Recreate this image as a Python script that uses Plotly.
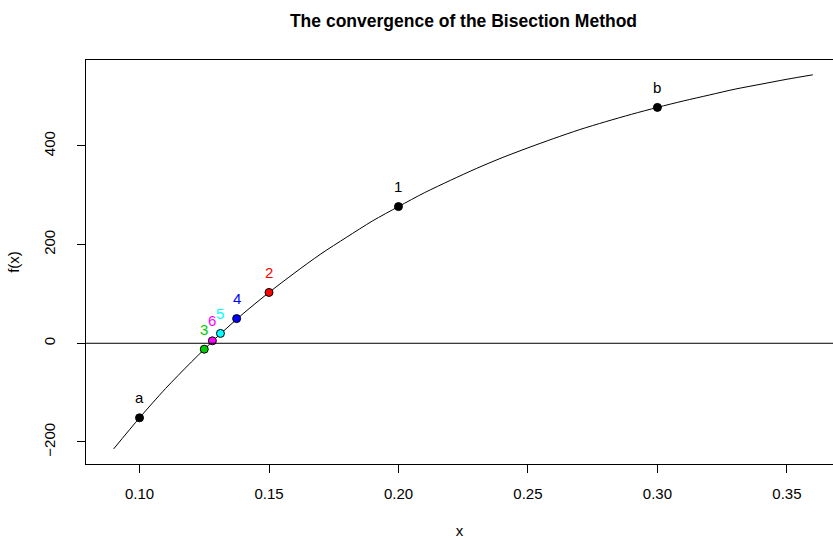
import plotly.graph_objects as go

# Curve f(x) sampled along the interval
curve_x = [0.09, 0.10, 0.11, 0.12, 0.13, 0.14, 0.15, 0.16, 0.17, 0.18,
           0.19, 0.20, 0.21, 0.22, 0.23, 0.24, 0.25, 0.26, 0.27, 0.28,
           0.29, 0.30, 0.31, 0.32, 0.33, 0.34, 0.35, 0.36]
curve_y = [-214, -151, -92, -38, 13, 60, 103, 143, 181, 215,
           248, 277, 305, 330, 354, 376, 396, 415, 433, 449,
           464, 478, 491, 503, 515, 525, 535, 544]

# Bisection iterates: endpoints a, b and midpoints 1..6
point_labels = ["a", "b", "1", "2", "3", "4", "5", "6"]
point_x = [0.10, 0.30, 0.20, 0.15, 0.125, 0.1375, 0.13125, 0.128125]
point_y = [-151, 478, 277, 103, -12, 50, 20, 5]
point_colors = ["#000000", "#000000", "#000000", "#FF0000",
                "#00CD00", "#0000FF", "#00FFFF", "#FF00FF"]

x_ticks = [0.10, 0.15, 0.20, 0.25, 0.30, 0.35]
x_tick_text = ["0.10", "0.15", "0.20", "0.25", "0.30", "0.35"]
y_ticks = [-200, 0, 200, 400]
y_tick_text = ["\u2212200", "0", "200", "400"]

FONT = "Liberation Sans, Arial, Helvetica, sans-serif"

fig = go.Figure()

fig.add_trace(go.Scatter(
    x=curve_x, y=curve_y, mode="lines",
    line=dict(color="black", width=1, shape="spline", smoothing=0.8),
    hoverinfo="skip", showlegend=False,
))

fig.add_trace(go.Scatter(
    x=point_x, y=point_y, mode="markers",
    marker=dict(size=8, color=point_colors,
                line=dict(color="black", width=1)),
    showlegend=False,
))

# horizontal reference line at f(x) = 0
fig.add_hline(y=0, line=dict(color="black", width=1))

for lab, px, py, col in zip(point_labels, point_x, point_y, point_colors):
    fig.add_annotation(
        x=px, y=py, text=lab, showarrow=False,
        yshift=20, font=dict(family=FONT, size=15, color=col),
    )

fig.update_layout(
    width=833, height=539,
    margin=dict(l=86, r=0, t=60, b=75),
    paper_bgcolor="white", plot_bgcolor="white",
    font=dict(family=FONT, size=15, color="black"),
    title=dict(
        text="<b>The convergence of the Bisection Method</b>",
        x=(86 + 841) / 2 / 833, xanchor="center",
        y=1 - 21 / 539, yanchor="middle", yref="container",
        font=dict(family=FONT, size=17.5, color="black"),
    ),
    xaxis=dict(
        range=[0.07933, 0.3678],
        tickvals=x_ticks, ticktext=x_tick_text,
        ticks="outside", ticklen=8, tickcolor="black", tickwidth=1,
        ticklabelstandoff=8,
        showgrid=False, zeroline=False,
        showline=True, linecolor="black", linewidth=1, mirror=True,
        title=dict(text="x", standoff=27, font=dict(size=15)),
        tickfont=dict(size=15),
    ),
    yaxis=dict(
        range=[-244.6, 574],
        tickvals=y_ticks, ticktext=y_tick_text,
        ticks="outside", ticklen=8, tickcolor="black", tickwidth=1,
        tickangle=-90, ticklabelstandoff=16,
        showgrid=False, zeroline=False,
        showline=True, linecolor="black", linewidth=1, mirror=False,
        title=dict(text="f(x)", standoff=17, font=dict(size=15)),
        tickfont=dict(size=15),
    ),
)

fig.write_html("out.html")
